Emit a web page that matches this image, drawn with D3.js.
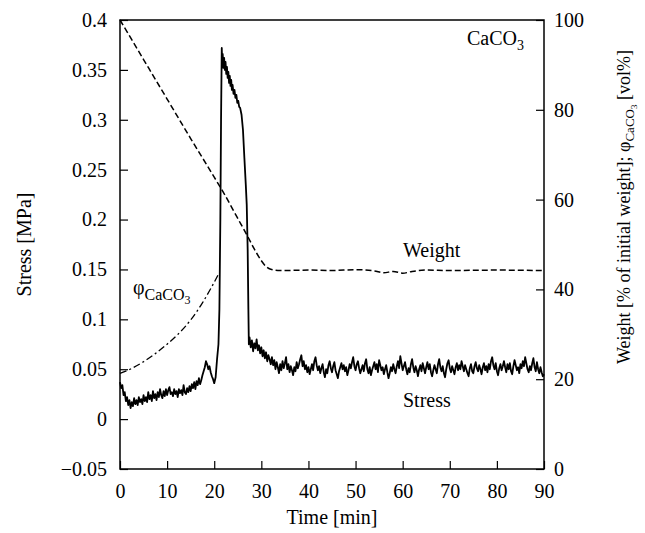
<!DOCTYPE html>
<html>
<head>
<meta charset="utf-8">
<script src="https://cdn.jsdelivr.net/npm/d3@7"></script>
<style>
  body { margin: 0; background: #fff; }
  svg { display: block; }
  svg text { font-family: "Liberation Serif", "Times New Roman", serif; fill: #000; }
</style>
</head>
<body>
<svg id="chart" width="645" height="533"></svg>
<script>
// time axis ticks and labels
const timeTicks = [0, 10, 20, 30, 40, 50, 60, 70, 80, 90];
const stressTicks = [-0.05, 0, 0.05, 0.1, 0.15, 0.2, 0.25, 0.3, 0.35, 0.4];
const stressTickLabels = ['\u22120.05', '0', '0.05', '0.1', '0.15', '0.2', '0.25', '0.3', '0.35', '0.4'];
const weightTicks = [0, 20, 40, 60, 80, 100];

// weight [% of initial weight] vs time [min]
const weightSeries = [
  [0, 100], [5, 91.2], [10, 82.4], [15, 73.6], [20, 65], [22, 61.5], [25, 55.8],
  [27, 52], [28.5, 49], [30, 46.4], [31, 45.1], [32, 44.5], [34, 44.2], [40, 44.3],
  [45, 44.2], [50, 44.4], [54, 44.1], [56, 43.7], [58, 44.0], [60, 43.6], [62, 44.0],
  [65, 44.3], [70, 44.2], [80, 44.3], [90, 44.2]
];

// phi CaCO3 [vol%] vs time [min]
const phiSeries = [
  [0, 21.3], [2.5, 22.4], [5, 23.9], [7.5, 25.7], [10, 27.8], [12.5, 30.2],
  [15, 33.2], [17.5, 37], [19, 39.7], [20, 41.6], [21, 43.6]
];

// stress [MPa], sampled every 0.25 min from t = 0 to 20
const stressEarly = [
  0.037, 0.031, 0.034, 0.024, 0.027, 0.018, 0.022, 0.014, 0.019, 0.011,
  0.017, 0.013, 0.021, 0.015, 0.019, 0.014, 0.022, 0.017, 0.020, 0.015,
  0.024, 0.018, 0.022, 0.017, 0.027, 0.020, 0.024, 0.018, 0.028, 0.021,
  0.025, 0.019, 0.027, 0.022, 0.030, 0.024, 0.021, 0.028, 0.023, 0.030,
  0.024, 0.029, 0.032, 0.025, 0.027, 0.023, 0.030, 0.025, 0.028, 0.022,
  0.030, 0.026, 0.029, 0.024, 0.034, 0.027, 0.025, 0.031, 0.027, 0.033,
  0.028, 0.035, 0.031, 0.037, 0.030, 0.038, 0.034, 0.041, 0.035, 0.039,
  0.044, 0.048, 0.052, 0.058, 0.055, 0.050, 0.053, 0.047, 0.043, 0.040,
  0.036
];

// stress peak [time, MPa]
const stressPeak = [
  [20.3, 0.042], [20.6, 0.060], [20.9, 0.075], [21.1, 0.11], [21.3, 0.20],
  [21.45, 0.30], [21.6, 0.372], [21.7, 0.356], [21.8, 0.366], [21.95, 0.352],
  [22.1, 0.362], [22.25, 0.350], [22.4, 0.358], [22.55, 0.346], [22.7, 0.353],
  [22.85, 0.342], [23.0, 0.348], [23.15, 0.337], [23.3, 0.344], [23.45, 0.334],
  [23.6, 0.340], [23.75, 0.330], [23.9, 0.335], [24.1, 0.326], [24.3, 0.330],
  [24.5, 0.322], [24.7, 0.325], [24.9, 0.317], [25.1, 0.319], [25.3, 0.313],
  [25.5, 0.312], [25.8, 0.305], [26.1, 0.290], [26.4, 0.262], [26.7, 0.235],
  [26.9, 0.215], [27.1, 0.17], [27.25, 0.11], [27.35, 0.075]
];

// stress [MPa], sampled every 0.25 min from t = 27.5 to 90
const stressLate = [
  0.082, 0.072, 0.079, 0.068, 0.076, 0.071, 0.080, 0.069, 0.074, 0.066,
  0.072, 0.063, 0.069, 0.061, 0.067, 0.058, 0.064, 0.060, 0.055, 0.062,
  0.054, 0.059, 0.050, 0.057, 0.052, 0.046, 0.055, 0.049, 0.058, 0.051,
  0.056, 0.062, 0.050, 0.055, 0.047, 0.053, 0.049, 0.044, 0.052, 0.048,
  0.057, 0.051, 0.055, 0.060, 0.064, 0.053, 0.058, 0.050, 0.054, 0.047,
  0.052, 0.045, 0.050, 0.055, 0.049, 0.058, 0.062, 0.054, 0.049, 0.053,
  0.046, 0.051, 0.055, 0.047, 0.042, 0.050, 0.046, 0.054, 0.058, 0.051,
  0.047, 0.053, 0.057, 0.049, 0.045, 0.041, 0.048, 0.052, 0.056, 0.050,
  0.054, 0.048, 0.052, 0.044, 0.049, 0.055, 0.051, 0.057, 0.062, 0.053,
  0.049, 0.055, 0.058, 0.051, 0.046, 0.050, 0.054, 0.048, 0.056, 0.060,
  0.050, 0.046, 0.052, 0.044, 0.049, 0.053, 0.057, 0.050, 0.055, 0.047,
  0.059, 0.054, 0.049, 0.052, 0.045, 0.050, 0.054, 0.047, 0.041, 0.046,
  0.052, 0.048, 0.055, 0.050, 0.046, 0.053, 0.058, 0.051, 0.063, 0.056,
  0.049, 0.053, 0.057, 0.050, 0.045, 0.051, 0.047, 0.055, 0.060, 0.052,
  0.047, 0.053, 0.049, 0.043, 0.050, 0.054, 0.048, 0.056, 0.051, 0.046,
  0.052, 0.057, 0.050, 0.055, 0.047, 0.043, 0.049, 0.054, 0.050, 0.046,
  0.055, 0.060, 0.052, 0.048, 0.053, 0.046, 0.042, 0.050, 0.056, 0.059,
  0.051, 0.047, 0.053, 0.049, 0.045, 0.052, 0.056, 0.049, 0.054, 0.050,
  0.058, 0.053, 0.048, 0.054, 0.050, 0.046, 0.043, 0.051, 0.055, 0.048,
  0.046, 0.053, 0.057, 0.051, 0.048, 0.054, 0.050, 0.045, 0.052, 0.056,
  0.049, 0.053, 0.047, 0.055, 0.050, 0.058, 0.062, 0.054, 0.050, 0.056,
  0.048, 0.044, 0.051, 0.055, 0.049, 0.053, 0.058, 0.052, 0.047, 0.055,
  0.050, 0.056, 0.048, 0.045, 0.053, 0.059, 0.054, 0.049, 0.052, 0.046,
  0.055, 0.051, 0.058, 0.053, 0.062, 0.056, 0.050, 0.047, 0.053, 0.049,
  0.056, 0.061, 0.052, 0.048, 0.057, 0.050, 0.046, 0.052, 0.047, 0.043,
  0.045
];

const margin = { top: 20, right: 101, bottom: 64, left: 120 };
const svg = d3.select('#chart');
const width = +svg.attr('width') - margin.left - margin.right;
const height = +svg.attr('height') - margin.top - margin.bottom;
const serif = '"Liberation Serif", "Times New Roman", serif';
const fontSize = 20;

const g = svg.append('g')
  .attr('transform', `translate(${margin.left}, ${margin.top})`);

const x = d3.scaleLinear().domain([0, 90]).range([0, width]);
const yStress = d3.scaleLinear().domain([-0.05, 0.4]).range([height, 0]);
const yWeight = d3.scaleLinear().domain([0, 100]).range([height, 0]);

const stressSeries = [
  ...stressEarly.map((v, i) => [i * 0.25, v]),
  ...stressPeak,
  ...stressLate.map((v, i) => [27.5 + i * 0.25, v])
];

// axes, ticks pointing inward
const xAxis = d3.axisBottom(x)
  .tickValues(timeTicks)
  .tickSizeInner(-8)
  .tickSizeOuter(0)
  .tickPadding(15);

const yAxisLeft = d3.axisLeft(yStress)
  .tickValues(stressTicks)
  .tickFormat((d, i) => stressTickLabels[i])
  .tickSizeInner(-8)
  .tickSizeOuter(0)
  .tickPadding(13);

const yAxisRight = d3.axisRight(yWeight)
  .tickValues(weightTicks)
  .tickSizeInner(-8)
  .tickSizeOuter(0)
  .tickPadding(10);

g.append('g')
  .attr('class', 'x-axis')
  .attr('transform', `translate(0, ${height})`)
  .call(xAxis);

g.append('g')
  .attr('class', 'y-axis-left')
  .call(yAxisLeft);

g.append('g')
  .attr('class', 'y-axis-right')
  .attr('transform', `translate(${width}, 0)`)
  .call(yAxisRight);

g.selectAll('.x-axis, .y-axis-left, .y-axis-right')
  .attr('font-family', serif)
  .attr('font-size', fontSize);
g.selectAll('.domain').remove();
g.selectAll('.tick line').attr('stroke', '#000').attr('stroke-width', 1.2);
g.selectAll('.tick text')
  .attr('fill', '#000')
  .style('font-family', serif)
  .style('font-size', fontSize + 'px');

// frame
g.append('rect')
  .attr('x', 0)
  .attr('y', 0)
  .attr('width', width)
  .attr('height', height)
  .attr('fill', 'none')
  .attr('stroke', '#000')
  .attr('stroke-width', 1.5);

// curves
const percentLine = d3.line()
  .x(d => x(d[0]))
  .y(d => yWeight(d[1]))
  .curve(d3.curveMonotoneX);

const stressLine = d3.line()
  .x(d => x(d[0]))
  .y(d => yStress(d[1]));

g.append('path')
  .datum(weightSeries)
  .attr('d', percentLine)
  .attr('fill', 'none')
  .attr('stroke', '#000')
  .attr('stroke-width', 1.5)
  .attr('stroke-dasharray', '6,3');

g.append('path')
  .datum(phiSeries)
  .attr('d', percentLine)
  .attr('fill', 'none')
  .attr('stroke', '#000')
  .attr('stroke-width', 1.3)
  .attr('stroke-dasharray', '7,3,2,3');

g.append('path')
  .datum(stressSeries)
  .attr('d', stressLine)
  .attr('fill', 'none')
  .attr('stroke', '#000')
  .attr('stroke-width', 1.8)
  .attr('stroke-linejoin', 'round');

// annotations
const addText = (px, py, parts) => {
  const t = g.append('text')
    .attr('x', px)
    .attr('y', py)
    .style('font-family', serif)
    .style('font-size', fontSize + 'px');
  parts.forEach(p => {
    t.append('tspan')
      .attr('dy', p.dy || 0)
      .style('font-size', (p.size || fontSize) + 'px')
      .text(p.text);
  });
  return t;
};

addText(347, 25, [{ text: 'CaCO' }, { text: '3', size: 14, dy: 5 }]);
addText(283, 237, [{ text: 'Weight' }]);
addText(283, 387, [{ text: 'Stress' }]);
addText(13, 274, [
  { text: '\u03c6' },
  { text: 'CaCO', size: 16, dy: 6 },
  { text: '3', size: 12, dy: 4 }
]);

// axis titles
svg.append('text')
  .attr('transform', `translate(${margin.left + width / 2}, 524)`)
  .attr('text-anchor', 'middle')
  .style('font-family', serif)
  .style('font-size', fontSize + 'px')
  .text('Time [min]');

svg.append('text')
  .attr('transform', `translate(31, ${margin.top + height / 2}) rotate(-90)`)
  .attr('text-anchor', 'middle')
  .style('font-family', serif)
  .style('font-size', fontSize + 'px')
  .text('Stress [MPa]');

const rightTitle = svg.append('text')
  .attr('transform', 'translate(630, 207) rotate(-90)')
  .attr('text-anchor', 'middle')
  .style('font-family', serif)
  .style('font-size', '18px');
rightTitle.append('tspan').text('Weight [% of initial weight]; \u03c6');
rightTitle.append('tspan').style('font-size', '13px').attr('dy', 4).text('CaCO');
rightTitle.append('tspan').style('font-size', '9px').attr('dy', 3).text('3');
rightTitle.append('tspan').attr('dy', -7).text(' [vol%]');
</script>
</body>
</html>
